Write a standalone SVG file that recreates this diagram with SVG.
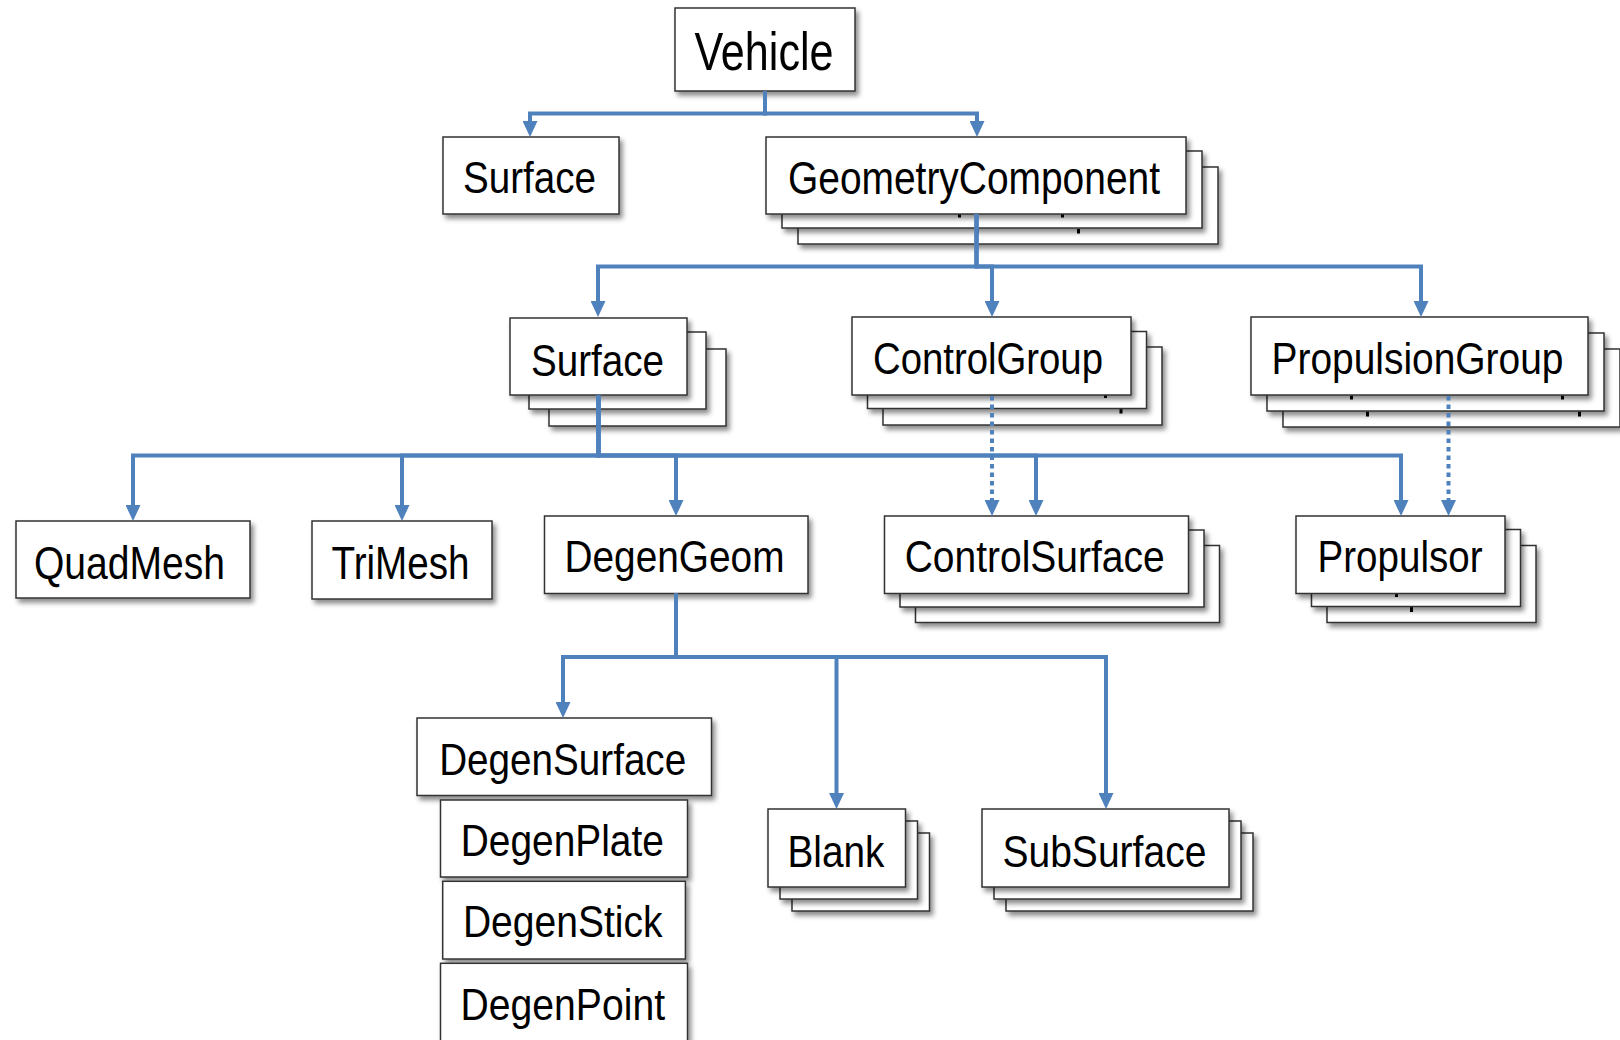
<svg xmlns="http://www.w3.org/2000/svg" width="1620" height="1040" viewBox="0 0 1620 1040">
<defs>
  <filter id="sh" x="-10%" y="-20%" width="130%" height="160%">
    <feDropShadow dx="3" dy="4" stdDeviation="2.5" flood-color="#000" flood-opacity="0.45"/>
  </filter>
  <marker id="ah" markerUnits="userSpaceOnUse" viewBox="0 0 16 15" refX="10" refY="7.5" markerWidth="16" markerHeight="15" orient="auto">
    <path d="M0,0 L16,7.5 L0,15 z" fill="#4F81BD"/>
  </marker>
  <style>
    .box{fill:#fff;stroke:#333;stroke-width:1.5;filter:url(#sh)}
    .lbl{font-family:"Liberation Sans",Arial,sans-serif;font-size:45px;fill:#000;text-anchor:middle}
    .tk{fill:#000}
    .ed{fill:none;stroke:#4F81BD;stroke-width:4;stroke-linejoin:miter;marker-end:url(#ah)}
    .dot{stroke-dasharray:4.5 4}
  </style>
</defs>
<rect width="1620" height="1040" fill="#fff"/>

<g id="vehicle">
  <rect class="box" x="675" y="8" width="180" height="83"/>
  <text class="lbl" x="764" y="70" style="font-size:53.5px" textLength="139" lengthAdjust="spacingAndGlyphs">Vehicle</text>
</g>

<g id="surface-top">
  <rect class="box" x="443" y="137" width="176" height="77"/>
  <text class="lbl" x="529.5" y="193" textLength="133" lengthAdjust="spacingAndGlyphs">Surface</text>
</g>

<g id="geometry-component">
  <rect class="box" x="798" y="167" width="420" height="77"/>
  <rect class="tk" x="976" y="229" width="3" height="4.5"/>
  <rect class="tk" x="1077" y="229" width="3" height="4.5"/>
  <rect class="box" x="782" y="151" width="420" height="77"/>
  <rect class="tk" x="958" y="214" width="3" height="3.5"/>
  <rect class="tk" x="1061" y="214" width="3" height="3.5"/>
  <rect class="box" x="766" y="137" width="420" height="77"/>
  <text class="lbl" x="974" y="194" style="font-size:45.5px" textLength="372" lengthAdjust="spacingAndGlyphs">GeometryComponent</text>
</g>

<g id="surface-mid">
  <rect class="box" x="549" y="349" width="177" height="77"/>
  <rect class="box" x="529" y="332" width="177" height="77"/>
  <rect class="box" x="510" y="318" width="177" height="77"/>
  <text class="lbl" x="597.5" y="376" textLength="133" lengthAdjust="spacingAndGlyphs">Surface</text>
</g>

<g id="control-group">
  <rect class="box" x="883" y="347" width="279" height="78"/>
  <rect class="tk" x="1119.5" y="409" width="3" height="4.5"/>
  <rect class="box" x="867.5" y="331.5" width="279" height="77"/>
  <rect class="tk" x="1104" y="395" width="3" height="3"/>
  <rect class="box" x="852" y="317" width="279" height="78"/>
  <text class="lbl" x="988" y="374" style="font-size:44px" textLength="230" lengthAdjust="spacingAndGlyphs">ControlGroup</text>
</g>

<g id="propulsion-group">
  <rect class="box" x="1283" y="349" width="337" height="78"/>
  <rect class="tk" x="1366" y="411.5" width="3" height="5"/>
  <rect class="tk" x="1578" y="411.5" width="3" height="5"/>
  <rect class="box" x="1267" y="333" width="337" height="78"/>
  <rect class="tk" x="1350" y="395.5" width="3" height="4"/>
  <rect class="tk" x="1561" y="395.5" width="3" height="4"/>
  <rect class="box" x="1251" y="317" width="337" height="78"/>
  <text class="lbl" x="1417.5" y="374" style="font-size:44px" textLength="292" lengthAdjust="spacingAndGlyphs">PropulsionGroup</text>
</g>

<g id="quadmesh">
  <rect class="box" x="16" y="521" width="234" height="77"/>
  <text class="lbl" x="129.5" y="579" style="font-size:47px" textLength="191" lengthAdjust="spacingAndGlyphs">QuadMesh</text>
</g>

<g id="trimesh">
  <rect class="box" x="312" y="521" width="180" height="78"/>
  <text class="lbl" x="400.5" y="579" style="font-size:47px" textLength="138" lengthAdjust="spacingAndGlyphs">TriMesh</text>
</g>

<g id="degengeom">
  <rect class="box" x="544.5" y="516" width="263.5" height="77.5"/>
  <text class="lbl" x="674.5" y="572" textLength="220" lengthAdjust="spacingAndGlyphs">DegenGeom</text>
</g>

<g id="control-surface">
  <rect class="box" x="915.5" y="545.5" width="304" height="77"/>
  <rect class="box" x="900" y="530" width="304" height="77"/>
  <rect class="box" x="884.5" y="516" width="304" height="77.5"/>
  <text class="lbl" x="1034.7" y="572" textLength="260" lengthAdjust="spacingAndGlyphs">ControlSurface</text>
</g>

<g id="propulsor">
  <rect class="box" x="1327" y="545.5" width="209" height="77"/>
  <rect class="tk" x="1410" y="607" width="3" height="5"/>
  <rect class="box" x="1311.5" y="529.5" width="209" height="77"/>
  <rect class="tk" x="1395" y="593.5" width="3" height="3.5"/>
  <rect class="box" x="1296" y="516" width="209" height="77.5"/>
  <text class="lbl" x="1400" y="572" style="font-size:44px" textLength="165" lengthAdjust="spacingAndGlyphs">Propulsor</text>
</g>

<g id="degen-surface">
  <rect class="box" x="417" y="718" width="294.5" height="77.5"/>
  <text class="lbl" x="562.7" y="775" textLength="247" lengthAdjust="spacingAndGlyphs">DegenSurface</text>
</g>

<g id="degen-plate">
  <rect class="box" x="440.5" y="800" width="247" height="77"/>
  <text class="lbl" x="562.3" y="856" textLength="203" lengthAdjust="spacingAndGlyphs">DegenPlate</text>
</g>

<g id="degen-stick">
  <rect class="box" x="442.7" y="881.3" width="242.7" height="77.7"/>
  <text class="lbl" x="562.7" y="937" textLength="199.5" lengthAdjust="spacingAndGlyphs">DegenStick</text>
</g>

<g id="degen-point">
  <rect class="box" x="440.5" y="963.3" width="247" height="90"/>
  <text class="lbl" x="562.8" y="1019.5" textLength="204.5" lengthAdjust="spacingAndGlyphs">DegenPoint</text>
</g>

<g id="blank">
  <rect class="box" x="792" y="833" width="137.5" height="78"/>
  <rect class="box" x="780" y="821" width="137.5" height="78"/>
  <rect class="box" x="768" y="809" width="137.5" height="78"/>
  <text class="lbl" x="836" y="866.7" textLength="97" lengthAdjust="spacingAndGlyphs">Blank</text>
</g>

<g id="subsurface">
  <rect class="box" x="1006" y="833" width="247" height="78"/>
  <rect class="box" x="994" y="821" width="247" height="78"/>
  <rect class="box" x="982" y="809" width="247" height="78"/>
  <text class="lbl" x="1104.4" y="866.7" textLength="204" lengthAdjust="spacingAndGlyphs">SubSurface</text>
</g>

<g id="connectors">
  <path class="ed" d="M765,91 V113.5 H530 V131"/>
  <path class="ed" d="M765,91 V113.5 H977 V131"/>
  <path class="ed" d="M976.5,214 V266.5 H598 V311"/>
  <path class="ed" d="M976.5,214 V266.5 H992 V311"/>
  <path class="ed" d="M976.5,214 V266.5 H1421 V311"/>
  <path class="ed" d="M598.5,395.5 V455.5 H133 V515"/>
  <path class="ed" d="M598.5,395.5 V455.5 H402 V515"/>
  <path class="ed" d="M598.5,395.5 V455.5 H676 V510"/>
  <path class="ed" d="M598.5,395.5 V455.5 H1036 V510"/>
  <path class="ed" d="M598.5,395.5 V455.5 H1401 V510"/>
  <path class="ed dot" d="M992,396 V510"/>
  <path class="ed dot" d="M1448.5,396 V510"/>
  <path class="ed" d="M676,593.5 V657 H563 V712"/>
  <path class="ed" d="M676,593.5 V657 H836.5 V803"/>
  <path class="ed" d="M676,593.5 V657 H1106 V803"/>
</g>
</svg>
